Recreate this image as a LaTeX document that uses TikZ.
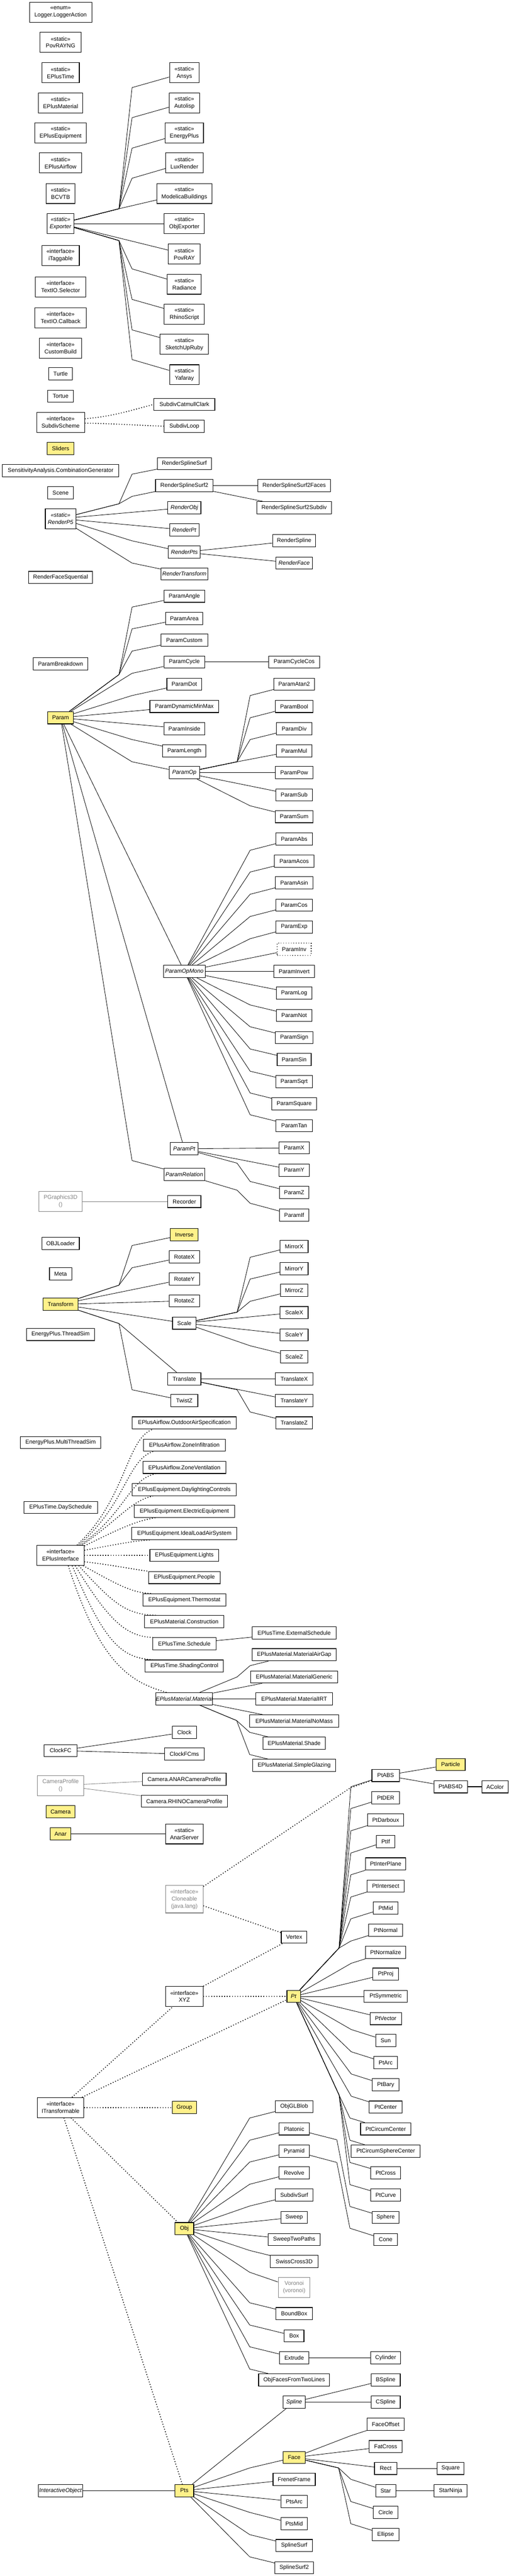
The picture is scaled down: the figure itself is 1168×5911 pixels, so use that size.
\documentclass[tikz,border=0pt]{standalone}
\usepackage{fontspec}
\setmainfont{Liberation Sans}
\newcommand\fs{\fontsize{13}{16.5}\selectfont}
\definecolor{hlcol}{HTML}{FFF18A}
\definecolor{grcol}{HTML}{808080}
\tikzset{
  cls/.style={draw, line width=1.3pt, fill=white, inner sep=0pt, minimum height=28pt, align=center, font=\fs},
  two/.style={minimum height=46pt},
  three/.style={minimum height=63pt},
  hl/.style={fill=hlcol},
  ghost/.style={draw=grcol, text=grcol},
  dotbox/.style={dash pattern=on 1.8pt off 4pt},
  bw/.style={minimum width=#1pt},
  rel/.style={line width=1pt},
  grel/.style={line width=1pt, draw=grcol},
  impl/.style={line width=1.9pt, dash pattern=on 1.9pt off 4.1pt},
}
\begin{document}
\begin{tikzpicture}[x=1pt,y=-1pt]
\useasboundingbox (0,0) rectangle (1168,5911);
% ---------- left column ----------
\node[cls,bw=143,two] (logger) at (139,28) {«enum»\\Logger.LoggerAction};
\node[cls,bw=94,two] (povrayng) at (139,97) {«static»\\PovRAYNG};
\node[cls,bw=86,two] (eplustime) at (139,167) {«static»\\EPlusTime};
\node[cls,bw=102,two] (eplusmat) at (139,236) {«static»\\EPlusMaterial};
\node[cls,bw=118,two] (eplusequip) at (139,305) {«static»\\EPlusEquipment};
\node[cls,bw=97,two] (eplusair) at (139,374) {«static»\\EPlusAirflow};
\node[cls,bw=67,two] (bcvtb) at (139,444) {«static»\\BCVTB};
\node[cls,bw=62,two] (exporter) at (139,513) {\textit{«static»}\\\textit{Exporter}};
\node[cls,bw=86,two] (itaggable) at (139,586) {«interface»\\iTaggable};
\node[cls,bw=116,two] (selector) at (139,658) {«interface»\\TextIO.Selector};
\node[cls,bw=118,two] (callback) at (139,729) {«interface»\\TextIO.Callback};
\node[cls,bw=97,two] (custombuild) at (139,799) {«interface»\\CustomBuild};
\node[cls,bw=54] (turtle) at (139,858) {Turtle};
\node[cls,bw=59] (tortue) at (139,909) {Tortue};
\node[cls,bw=110,two] (subdivscheme) at (139,969) {«interface»\\SubdivScheme};
\node[cls,bw=62,hl] (sliders) at (139,1029) {Sliders};
\node[cls,bw=268] (sensitivity) at (139,1080) {SensitivityAnalysis.CombinationGenerator};
\node[cls,bw=59] (scene) at (139,1131) {Scene};
\node[cls,bw=70,two] (renderp5) at (139,1190) {\textit{«static»}\\\textit{RenderP5}};
\node[cls,bw=147] (renderfacesq) at (139,1325) {RenderFaceSquential};
\node[cls,bw=126] (parambreakdown) at (139,1523) {ParamBreakdown};
\node[cls,bw=59,hl] (param) at (139,1647) {Param};
\node[cls,bw=99,two,ghost] (pgraphics) at (139,2757) {PGraphics3D\\()};
\node[cls,bw=86] (objloader) at (139,2853) {OBJLoader};
\node[cls,bw=51] (meta) at (139,2923) {Meta};
\node[cls,bw=80,hl] (transform) at (139,2993) {Transform};
\node[cls,bw=156] (threadsim) at (139,3062) {EnergyPlus.ThreadSim};
\node[cls,bw=185] (multithreadsim) at (139,3310) {EnergyPlus.MultiThreadSim};
\node[cls,bw=169] (dayschedule) at (139,3459) {EPlusTime.DaySchedule};
\node[cls,bw=108,two] (epi) at (139,3569) {«interface»\\EPlusInterface};
\node[cls,bw=75] (clockfc) at (139,4017) {ClockFC};
\node[cls,bw=106,two,ghost] (cameraprofile) at (139,4097) {CameraProfile\\()};
\node[cls,bw=67,hl] (camera) at (139,4157) {Camera};
\node[cls,bw=48,hl] (anar) at (139,4208) {Anar};
\node[cls,bw=107,two] (itransformable) at (139,4836) {«interface»\\ITransformable};
\node[cls,bw=102] (interactiveobject) at (139,5715) {\textit{InteractiveObject}};
% ---------- middle column ----------
\node[cls,bw=68,two] (ansys) at (423,167) {«static»\\Ansys};
\node[cls,bw=70,two] (autolisp) at (423,236) {«static»\\Autolisp};
\node[cls,bw=88,two] (energyplus) at (423,305) {«static»\\EnergyPlus};
\node[cls,bw=86,two] (luxrender) at (423,374) {«static»\\LuxRender};
\node[cls,bw=126,two] (modelica) at (423,444) {«static»\\ModelicaBuildings};
\node[cls,bw=92,two] (objexporter) at (423,513) {«static»\\ObjExporter};
\node[cls,bw=73,two] (povray) at (423,583) {«static»\\PovRAY};
\node[cls,bw=78,two] (radiance) at (423,652) {«static»\\Radiance};
\node[cls,bw=92,two] (rhinoscript) at (423,721) {«static»\\RhinoScript};
\node[cls,bw=111,two] (sketchup) at (423,790) {«static»\\SketchUpRuby};
\node[cls,bw=68,two] (yafaray) at (423,860) {«static»\\Yafaray};
\node[cls,bw=140] (subdivcc) at (423,928) {SubdivCatmullClark};
\node[cls,bw=92] (subdivloop) at (423,978) {SubdivLoop};
\node[cls,bw=124] (rss) at (423,1064) {RenderSplineSurf};
\node[cls,bw=132] (rss2) at (423,1114) {RenderSplineSurf2};
\node[cls,bw=76] (renderobj) at (423,1165) {\textit{RenderObj}};
\node[cls,bw=67] (renderpt) at (423,1216) {\textit{RenderPt}};
\node[cls,bw=73] (renderpts) at (423,1267) {\textit{RenderPts}};
\node[cls,bw=108] (rendertransform) at (423,1317) {\textit{RenderTransform}};
\node[cls,bw=94] (paramangle) at (423,1368) {ParamAngle};
\node[cls,bw=85] (paramarea) at (423,1419) {ParamArea};
\node[cls,bw=108] (paramcustom) at (423,1469) {ParamCustom};
\node[cls,bw=94] (paramcycle) at (423,1519) {ParamCycle};
\node[cls,bw=80] (paramdot) at (423,1570) {ParamDot};
\node[cls,bw=158] (paramdyn) at (423,1621) {ParamDynamicMinMax};
\node[cls,bw=94] (paraminside) at (423,1672) {ParamInside};
\node[cls,bw=99] (paramlength) at (423,1723) {ParamLength};
\node[cls,bw=70] (paramop) at (423,1773) {\textit{ParamOp}};
\node[cls,bw=96] (paramopmono) at (423,2229) {\textit{ParamOpMono}};
\node[cls,bw=64] (parampt) at (423,2636) {\textit{ParamPt}};
\node[cls,bw=94] (paramrelation) at (423,2695) {\textit{ParamRelation}};
\node[cls,bw=76] (recorder) at (423,2757) {Recorder};
\node[cls,bw=64,hl] (inverse) at (423,2833) {Inverse};
\node[cls,bw=70] (rotatex) at (423,2884) {RotateX};
\node[cls,bw=70] (rotatey) at (423,2935) {RotateY};
\node[cls,bw=70] (rotatez) at (423,2985) {RotateZ};
\node[cls,bw=54] (scale) at (423,3036) {Scale};
\node[cls,bw=76] (translate) at (423,3164) {Translate};
\node[cls,bw=62] (twistz) at (423,3214) {TwistZ};
\node[cls,bw=239] (outdoor) at (423,3265) {EPlusAirflow.OutdoorAirSpecification};
\node[cls,bw=188] (zoneinf) at (423,3316) {EPlusAirflow.ZoneInfiltration};
\node[cls,bw=190] (zonevent) at (423,3367) {EPlusAirflow.ZoneVentilation};
\node[cls,bw=239] (daylight) at (423,3418) {EPlusEquipment.DaylightingControls};
\node[cls,bw=231] (electric) at (423,3468) {EPlusEquipment.ElectricEquipment};
\node[cls,bw=241] (ideal) at (423,3519) {EPlusEquipment.IdealLoadAirSystem};
\node[cls,bw=158] (lights) at (423,3569) {EPlusEquipment.Lights};
\node[cls,bw=164] (people) at (423,3620) {EPlusEquipment.People};
\node[cls,bw=190] (thermostat) at (423,3671) {EPlusEquipment.Thermostat};
\node[cls,bw=182] (construction) at (423,3721) {EPlusMaterial.Construction};
\node[cls,bw=145] (schedule) at (423,3772) {EPlusTime.Schedule};
\node[cls,bw=180] (shading) at (423,3823) {EPlusTime.ShadingControl};
\node[cls,bw=129] (material) at (423,3898) {\textit{EPlusMaterial.Material}};
\node[cls,bw=56] (clock) at (423,3975) {Clock};
\node[cls,bw=91] (clockfcms) at (423,4025) {ClockFCms};
\node[cls,bw=192] (anarcam) at (423,4083) {Camera.ANARCameraProfile};
\node[cls,bw=198] (rhinocam) at (423,4133) {Camera.RHINOCameraProfile};
\node[cls,bw=86,two] (anarserver) at (423,4208) {«static»\\AnarServer};
\node[cls,bw=86,three,ghost] (cloneable) at (423,4358) {«interface»\\Cloneable\\(java.lang)};
\node[cls,bw=86,two] (xyz) at (423,4581) {«interface»\\XYZ};
\node[cls,bw=56,hl] (group) at (423,4836) {Group};
\node[cls,bw=43,hl] (obj) at (423,5114) {Obj};
\node[cls,bw=43,hl] (pts) at (423,5715) {Pts};
% ---------- third column ----------
\node[cls,bw=167] (rss2faces) at (675,1114) {RenderSplineSurf2Faces};
\node[cls,bw=172] (rss2subdiv) at (675,1165) {RenderSplineSurf2Subdiv};
\node[cls,bw=99] (renderspline) at (675,1241) {RenderSpline};
\node[cls,bw=83] (renderface) at (675,1292) {\textit{RenderFace}};
\node[cls,bw=118] (paramcyclecos) at (675,1519) {ParamCycleCos};
\node[cls,bw=94] (paramatan2) at (675,1570) {ParamAtan2};
\node[cls,bw=86] (parambool) at (675,1621) {ParamBool};
\node[cls,bw=81] (paramdiv) at (675,1672) {ParamDiv};
\node[cls,bw=81] (parammul) at (675,1723) {ParamMul};
\node[cls,bw=86] (parampow) at (675,1773) {ParamPow};
\node[cls,bw=83] (paramsub) at (675,1824) {ParamSub};
\node[cls,bw=86] (paramsum) at (675,1874) {ParamSum};
\node[cls,bw=83] (paramabs) at (675,1925) {ParamAbs};
\node[cls,bw=91] (paramacos) at (675,1976) {ParamAcos};
\node[cls,bw=86] (paramasin) at (675,2026) {ParamAsin};
\node[cls,bw=83] (paramcos) at (675,2077) {ParamCos};
\node[cls,bw=83] (paramexp) at (675,2127) {ParamExp};
\node[cls,bw=78,dotbox] (paraminv) at (675,2178) {ParamInv};
\node[cls,bw=94] (paraminvert) at (675,2229) {ParamInvert};
\node[cls,bw=81] (paramlog) at (675,2279) {ParamLog};
\node[cls,bw=81] (paramnot) at (675,2330) {ParamNot};
\node[cls,bw=86] (paramsign) at (675,2381) {ParamSign};
\node[cls,bw=78] (paramsin) at (675,2431) {ParamSin};
\node[cls,bw=83] (paramsqrt) at (675,2482) {ParamSqrt};
\node[cls,bw=102] (paramsquare) at (675,2533) {ParamSquare};
\node[cls,bw=83] (paramtan) at (675,2583) {ParamTan};
\node[cls,bw=69] (paramx) at (675,2634) {ParamX};
\node[cls,bw=69] (paramy) at (675,2685) {ParamY};
\node[cls,bw=67] (paramz) at (675,2736) {ParamZ};
\node[cls,bw=67] (paramif) at (675,2788) {ParamIf};
\node[cls,bw=64] (mirrorx) at (675,2860) {MirrorX};
\node[cls,bw=64] (mirrory) at (675,2911) {MirrorY};
\node[cls,bw=62] (mirrorz) at (675,2961) {MirrorZ};
\node[cls,bw=64] (scalex) at (675,3012) {ScaleX};
\node[cls,bw=64] (scaley) at (675,3063) {ScaleY};
\node[cls,bw=62] (scalez) at (675,3113) {ScaleZ};
\node[cls,bw=86] (translatex) at (675,3164) {TranslateX};
\node[cls,bw=86] (translatey) at (675,3214) {TranslateY};
\node[cls,bw=83] (translatez) at (675,3265) {TranslateZ};
\node[cls,bw=193] (extsched) at (675,3747) {EPlusTime.ExternalSchedule};
\node[cls,bw=193] (airgap) at (675,3797) {EPlusMaterial.MaterialAirGap};
\node[cls,bw=199] (generic) at (675,3848) {EPlusMaterial.MaterialGeneric};
\node[cls,bw=176] (irt) at (675,3898) {EPlusMaterial.MaterialIRT};
\node[cls,bw=204] (nomass) at (675,3949) {EPlusMaterial.MaterialNoMass};
\node[cls,bw=144] (shade) at (675,4000) {EPlusMaterial.Shade};
\node[cls,bw=190] (glazing) at (675,4051) {EPlusMaterial.SimpleGlazing};
\node[cls,bw=59] (vertex) at (675,4445) {Vertex};
\node[cls,bw=31,hl] (pt) at (674,4581) {\textit{Pt}};
\node[cls,bw=86] (objglblob) at (675,4834) {ObjGLBlob};
\node[cls,bw=69] (platonic) at (675,4885) {Platonic};
\node[cls,bw=69] (pyramid) at (675,4936) {Pyramid};
\node[cls,bw=69] (revolve) at (675,4986) {Revolve};
\node[cls,bw=86] (subdivsurf) at (675,5037) {SubdivSurf};
\node[cls,bw=61] (sweep) at (675,5088) {Sweep};
\node[cls,bw=120] (sweeptwo) at (675,5139) {SweepTwoPaths};
\node[cls,bw=109] (swisscross) at (675,5189) {SwissCross3D};
\node[cls,bw=73,two,ghost] (voronoi) at (675,5249) {Voronoi\\(voronoi)};
\node[cls,bw=84] (boundbox) at (675,5309) {BoundBox};
\node[cls,bw=45] (box) at (675,5360) {Box};
\node[cls,bw=68] (extrude) at (675,5410) {Extrude};
\node[cls,bw=163] (objfaces) at (675,5461) {ObjFacesFromTwoLines};
\node[cls,bw=51] (spline) at (675,5512) {\textit{Spline}};
\node[cls,bw=51,hl] (face) at (675,5639) {Face};
\node[cls,bw=97] (frenet) at (675,5689) {FrenetFrame};
\node[cls,bw=61] (ptsarc) at (675,5740) {PtsArc};
\node[cls,bw=61] (ptsmid) at (675,5791) {PtsMid};
\node[cls,bw=83] (splinesurf) at (675,5841) {SplineSurf};
\node[cls,bw=88] (splinesurf2) at (675,5892) {SplineSurf2};
% ---------- fourth column ----------
\node[cls,bw=63] (ptabs) at (885,4074) {PtABS};
\node[cls,bw=64] (ptder) at (885,4125) {PtDER};
\node[cls,bw=83] (ptdarboux) at (885,4176) {PtDarboux};
\node[cls,bw=43] (ptif) at (885,4226) {PtIf};
\node[cls,bw=93] (ptinterplane) at (885,4277) {PtInterPlane};
\node[cls,bw=85] (ptintersect) at (885,4328) {PtIntersect};
\node[cls,bw=56] (ptmid) at (885,4378) {PtMid};
\node[cls,bw=78] (ptnormal) at (885,4429) {PtNormal};
\node[cls,bw=93] (ptnormalize) at (885,4480) {PtNormalize};
\node[cls,bw=59] (ptproj) at (885,4530) {PtProj};
\node[cls,bw=99] (ptsymmetric) at (885,4581) {PtSymmetric};
\node[cls,bw=72] (ptvector) at (885,4632) {PtVector};
\node[cls,bw=46] (sun) at (885,4682) {Sun};
\node[cls,bw=54] (ptarc) at (885,4733) {PtArc};
\node[cls,bw=61] (ptbary) at (885,4784) {PtBary};
\node[cls,bw=75] (ptcenter) at (885,4835) {PtCenter};
\node[cls,bw=115] (ptcircumcenter) at (885,4885) {PtCircumCenter};
\node[cls,bw=158] (ptcircumsphere) at (885,4936) {PtCircumSphereCenter};
\node[cls,bw=69] (ptcross) at (885,4986) {PtCross};
\node[cls,bw=69] (ptcurve) at (885,5037) {PtCurve};
\node[cls,bw=61] (sphere) at (885,5088) {Sphere};
\node[cls,bw=54] (cone) at (885,5139) {Cone};
\node[cls,bw=69] (cylinder) at (885,5410) {Cylinder};
\node[cls,bw=67] (bspline) at (885,5461) {BSpline};
\node[cls,bw=67] (cspline) at (885,5512) {CSpline};
\node[cls,bw=85] (faceoffset) at (885,5563) {FaceOffset};
\node[cls,bw=75] (fatcross) at (885,5614) {FatCross};
\node[cls,bw=51] (rect) at (885,5664) {Rect};
\node[cls,bw=46] (star) at (885,5715) {Star};
\node[cls,bw=57] (circle) at (885,5765) {Circle};
\node[cls,bw=61] (ellipse) at (885,5816) {Ellipse};
% ---------- fifth / sixth column ----------
\node[cls,bw=67,hl] (particle) at (1034,4049) {Particle};
\node[cls,bw=77] (ptabs4d) at (1034,4100) {PtABS4D};
\node[cls,bw=61] (square) at (1034,5664) {Square};
\node[cls,bw=76] (starninja) at (1034,5715) {StarNinja};
\node[cls,bw=61] (acolor) at (1136,4100) {AColor};

% ================= connectors =================
% Exporter
\draw[rel] (exporter) -- (273,479) -- (303,201) -- (ansys);
\draw[rel] (exporter) -- (273,479) -- (303,270) -- (autolisp);
\draw[rel] (exporter) -- (273,479) -- (303,340) -- (energyplus);
\draw[rel] (exporter) -- (273,479) -- (303,409) -- (luxrender);
\draw[rel] (exporter) -- (273,479) -- (modelica);
\draw[rel] (exporter) -- (objexporter);
\draw[rel] (exporter) -- (povray);
\draw[rel] (exporter) -- (273,552) -- (303,617) -- (radiance);
\draw[rel] (exporter) -- (273,552) -- (303,687) -- (rhinoscript);
\draw[rel] (exporter) -- (273,552) -- (303,757) -- (sketchup);
\draw[rel] (exporter) -- (273,552) -- (303,825) -- (yafaray);
% SubdivScheme
\draw[impl] ([yshift=8pt]subdivscheme.east) .. controls (260,955) and (300,942) .. (subdivcc.west);
\draw[impl] ([yshift=-2pt]subdivscheme.east) .. controls (260,972) and (320,976) .. (subdivloop.west);
% RenderP5
\draw[rel] (renderp5) -- (273,1156) -- (303,1088) -- (rss);
\draw[rel] (renderp5) -- (273,1156) -- (303,1139) -- (rss2);
\draw[rel] (renderp5) -- (renderobj);
\draw[rel] (renderp5) -- (renderpt);
\draw[rel] (renderp5) -- (303,1241) -- (renderpts);
\draw[rel] (renderp5) -- (303,1292) -- (rendertransform);
\draw[rel] (rss2) -- (rss2faces);
\draw[rel] (rss2) -- (rss2subdiv);
\draw[rel] (renderpts) -- (renderspline);
\draw[rel] (renderpts) -- (renderface);
% Param
\draw[rel] (param) -- (273,1548) -- (303,1393) -- (paramangle);
\draw[rel] (param) -- (273,1548) -- (303,1443) -- (paramarea);
\draw[rel] (param) -- (273,1548) -- (303,1494) -- (paramcustom);
\draw[rel] (param) -- (303,1545) -- (paramcycle);
\draw[rel] (param) -- (303,1596) -- (paramdot);
\draw[rel] (param) -- (paramdyn);
\draw[rel] (param) -- (paraminside);
\draw[rel] (param) -- (303,1697) -- (paramlength);
\draw[rel] (param) -- (303,1748) -- (paramop);
\draw[rel] (param) -- (paramopmono);
\draw[rel] (param) -- (parampt);
\draw[rel] (param) -- (303,2663) -- (paramrelation);
\draw[rel] (paramcycle) -- (paramcyclecos);
% ParamOp
\draw[rel] (paramop) -- (544,1748) -- (574,1596) -- (paramatan2);
\draw[rel] (paramop) -- (544,1748) -- (574,1647) -- (parambool);
\draw[rel] (paramop) -- (544,1748) -- (574,1697) -- (paramdiv);
\draw[rel] (paramop) -- (544,1748) -- (parammul);
\draw[rel] (paramop) -- (parampow);
\draw[rel] (paramop) -- (paramsub);
\draw[rel] (paramop) -- (574,1849) -- (paramsum);
% ParamOpMono
\draw[rel] (paramopmono) -- (574,1951) -- (paramabs);
\draw[rel] (paramopmono) -- (574,2001) -- (paramacos);
\draw[rel] (paramopmono) -- (574,2052) -- (paramasin);
\draw[rel] (paramopmono) -- (574,2103) -- (paramcos);
\draw[rel] (paramopmono) -- (574,2154) -- (paramexp);
\draw[rel] (paramopmono) -- (paraminv);
\draw[rel] (paramopmono) -- (paraminvert);
\draw[rel] (paramopmono) -- (paramlog);
\draw[rel] (paramopmono) -- (574,2306) -- (paramnot);
\draw[rel] (paramopmono) -- (574,2356) -- (paramsign);
\draw[rel] (paramopmono) -- (574,2407) -- (paramsin);
\draw[rel] (paramopmono) -- (574,2458) -- (paramsqrt);
\draw[rel] (paramopmono) -- (574,2508) -- (paramsquare);
\draw[rel] (paramopmono) -- (574,2558) -- (paramtan);
% ParamPt / ParamRelation
\draw[rel] (parampt) -- (paramx);
\draw[rel] (parampt) -- (paramy);
\draw[rel] (parampt) -- (544,2669) -- (574,2711) -- (paramz);
\draw[rel] (paramrelation) -- (544,2731) -- (574,2761) -- (paramif);
% PGraphics3D
\draw[grel] (pgraphics) -- (recorder);
% Transform
\draw[rel] (transform) -- (273,2949) -- (303,2858) -- (inverse);
\draw[rel] (transform) -- (273,2949) -- (303,2909) -- (rotatex);
\draw[rel] (transform) -- (rotatey);
\draw[rel] (transform) -- (rotatez);
\draw[rel] (transform) -- (scale);
\draw[rel] (transform) -- (273,3037) -- (translate);
\draw[rel] (transform) -- (273,3037) -- (303,3189) -- (twistz);
% Scale
\draw[rel] (scale) -- (544,3011) -- (574,2885) -- (mirrorx);
\draw[rel] (scale) -- (544,3011) -- (574,2935) -- (mirrory);
\draw[rel] (scale) -- (544,3011) -- (574,2986) -- (mirrorz);
\draw[rel] (scale) -- (scalex);
\draw[rel] (scale) -- (scaley);
\draw[rel] (scale) -- (574,3088) -- (scalez);
% Translate
\draw[rel] (translate) -- (translatex);
\draw[rel] (translate) -- (translatey);
\draw[rel] (translate) -- (544,3189) -- (574,3240) -- (translatez);
% EPlusInterface
\draw[impl] ([xshift=-17pt]epi.north east) .. controls (290,3440) and (290,3300) .. ([xshift=48pt]outdoor.south west);
\draw[impl] ([xshift=-13pt]epi.north east) .. controls (290,3450) and (292,3350) .. ([xshift=23pt]zoneinf.south west);
\draw[impl] ([xshift=-9pt]epi.north east) .. controls (290,3470) and (295,3395) .. ([xshift=30pt]zonevent.south west);
\draw[impl] ([xshift=-5pt]epi.north east) .. controls (280,3480) and (300,3445) .. ([xshift=48pt]daylight.south west);
\draw[impl] ([yshift=-2pt]epi.north east) .. controls (270,3510) and (310,3490) .. ([xshift=50pt]electric.south west);
\draw[impl] ([yshift=-12pt]epi.north east) .. controls (260,3545) and (310,3535) .. ([xshift=43pt]ideal.south west);
\draw[impl] (epi) -- (lights);
\draw[impl] ([yshift=9pt]epi.south east) .. controls (250,3590) and (300,3600) .. ([xshift=0pt]people.north west);
\draw[impl] ([xshift=-3pt]epi.south east) .. controls (260,3630) and (300,3656) .. ([xshift=21pt]thermostat.north west);
\draw[impl] ([xshift=-13pt]epi.south east) .. controls (260,3680) and (290,3705) .. ([xshift=26pt]construction.north west);
\draw[impl] ([xshift=-21pt]epi.south east) .. controls (250,3720) and (290,3755) .. ([xshift=1pt]schedule.north west);
\draw[impl] ([xshift=-28pt]epi.south east) .. controls (240,3770) and (280,3805) .. ([xshift=18pt]shading.north west);
\draw[impl] ([xshift=-37pt]epi.south east) .. controls (230,3820) and (300,3860) .. ([xshift=25pt]material.north west);
\draw[rel] (schedule) -- (extsched);
% Material
\draw[rel] (material) -- (544,3848) -- (574,3822) -- (airgap);
\draw[rel] (material) -- (generic);
\draw[rel] (material) -- (irt);
\draw[rel] (material) -- (nomass);
\draw[rel] (material) -- (543,3948) -- (573,3975) -- (shade);
\draw[rel] (material) -- (543,3948) -- (573,4026) -- (glazing);
% Clock, camera, anar
\draw[rel] (clockfc) -- (clock);
\draw[rel] (clockfc) -- (clockfcms);
\draw[grel] (cameraprofile) -- (anarcam);
\draw[grel] (cameraprofile) -- (rhinocam);
\draw[rel,line width=1.6pt] (anar) -- (anarserver);
% Pt upper
\draw[rel] (pt) -- (778,4470) -- (805,4100) -- (ptabs);
\draw[rel] (pt) -- (778,4470) -- (805,4150) -- (ptder);
\draw[rel] (pt) -- (778,4470) -- (805,4201) -- (ptdarboux);
\draw[rel] (pt) -- (778,4470) -- (805,4252) -- (ptif);
\draw[rel] (pt) -- (778,4470) -- (805,4302) -- (ptinterplane);
\draw[rel] (pt) -- (778,4470) -- (805,4353) -- (ptintersect);
\draw[rel] (pt) -- (778,4470) -- (805,4403) -- (ptmid);
\draw[rel] (pt) -- (778,4470) -- (805,4454) -- (ptnormal);
\draw[rel] (pt) -- (806,4505) -- (ptnormalize);
\draw[rel] (pt) -- (ptproj);
\draw[rel] (pt) -- (ptsymmetric);
\draw[rel] (pt) -- (ptvector);
\draw[rel] (pt) -- (806,4657) -- (sun);
\draw[rel] (pt) -- (806,4708) -- (ptarc);
\draw[rel] (pt) -- (806,4759) -- (ptbary);
\draw[rel] (pt) -- (806,4810) -- (ptcenter);
\draw[rel] (pt) -- (778,4807) -- (803,4860) -- (ptcircumcenter);
\draw[rel] (pt) -- (778,4807) -- (803,4911) -- (ptcircumsphere);
\draw[rel] (pt) -- (778,4807) -- (803,4962) -- (ptcross);
\draw[rel] (pt) -- (778,4807) -- (803,5013) -- (ptcurve);
\draw[rel] (platonic) -- (773,4910) -- (803,5063) -- (sphere);
\draw[rel] (pyramid) -- (773,4962) -- (803,5113) -- (cone);
\draw[rel] (ptabs) -- (particle);
\draw[rel] (ptabs) -- (ptabs4d);
\draw[rel,line width=1.6pt] (ptabs4d) -- (acolor);
% Cloneable, XYZ, ITransformable
\draw[impl] (cloneable) -- (803,4103) -- (ptabs);
\draw[impl] (cloneable) -- (vertex);
\draw[impl] (xyz) -- (vertex);
\draw[impl] (xyz) -- (pt);
\draw[impl] (itransformable) -- (xyz);
\draw[impl] (itransformable) -- (pt);
\draw[impl] (itransformable) -- (group);
\draw[impl] (itransformable) -- (obj);
\draw[impl] (itransformable) -- (pts);
% Obj
\draw[rel] (obj) -- (573,4860) -- (objglblob);
\draw[rel] (obj) -- (573,4911) -- (platonic);
\draw[rel] (obj) -- (573,4961) -- (pyramid);
\draw[rel] (obj) -- (573,5012) -- (revolve);
\draw[rel] (obj) -- (573,5062) -- (subdivsurf);
\draw[rel] (obj) -- (sweep);
\draw[rel] (obj) -- (sweeptwo);
\draw[rel] (obj) -- (573,5164) -- (swisscross);
\draw[rel] (obj) -- (573,5214) -- (voronoi);
\draw[rel] (obj) -- (573,5284) -- (boundbox);
\draw[rel] (obj) -- (573,5335) -- (box);
\draw[rel] (obj) -- (573,5385) -- (extrude);
\draw[rel] (obj) -- (573,5436) -- (objfaces);
\draw[rel,line width=1.4pt] (extrude) -- (cylinder);
\draw[rel] (spline) -- (bspline);
\draw[rel,line width=1.4pt] (spline) -- (cspline);
% Pts
\draw[rel] (pts) -- (spline);
\draw[rel] (pts) -- (573,5663) -- (face);
\draw[rel] (pts) -- (frenet);
\draw[rel] (pts) -- (ptsarc);
\draw[rel] (pts) -- (573,5765) -- (ptsmid);
\draw[rel] (pts) -- (573,5816) -- (splinesurf);
\draw[rel] (pts) -- (573,5867) -- (splinesurf2);
\draw[rel] (interactiveobject) -- (pts);
% Face
\draw[rel] (face) -- (805,5589) -- (faceoffset);
\draw[rel] (face) -- (fatcross);
\draw[rel] (face) -- (rect);
\draw[rel] (face) -- (777,5663) -- (805,5689) -- (star);
\draw[rel] (face) -- (777,5663) -- (805,5740) -- (circle);
\draw[rel] (face) -- (777,5663) -- (805,5791) -- (ellipse);
\draw[rel,line width=1.4pt] (rect) -- (square);
\draw[rel,line width=1.4pt] (star) -- (starninja);
\end{tikzpicture}
\end{document}
